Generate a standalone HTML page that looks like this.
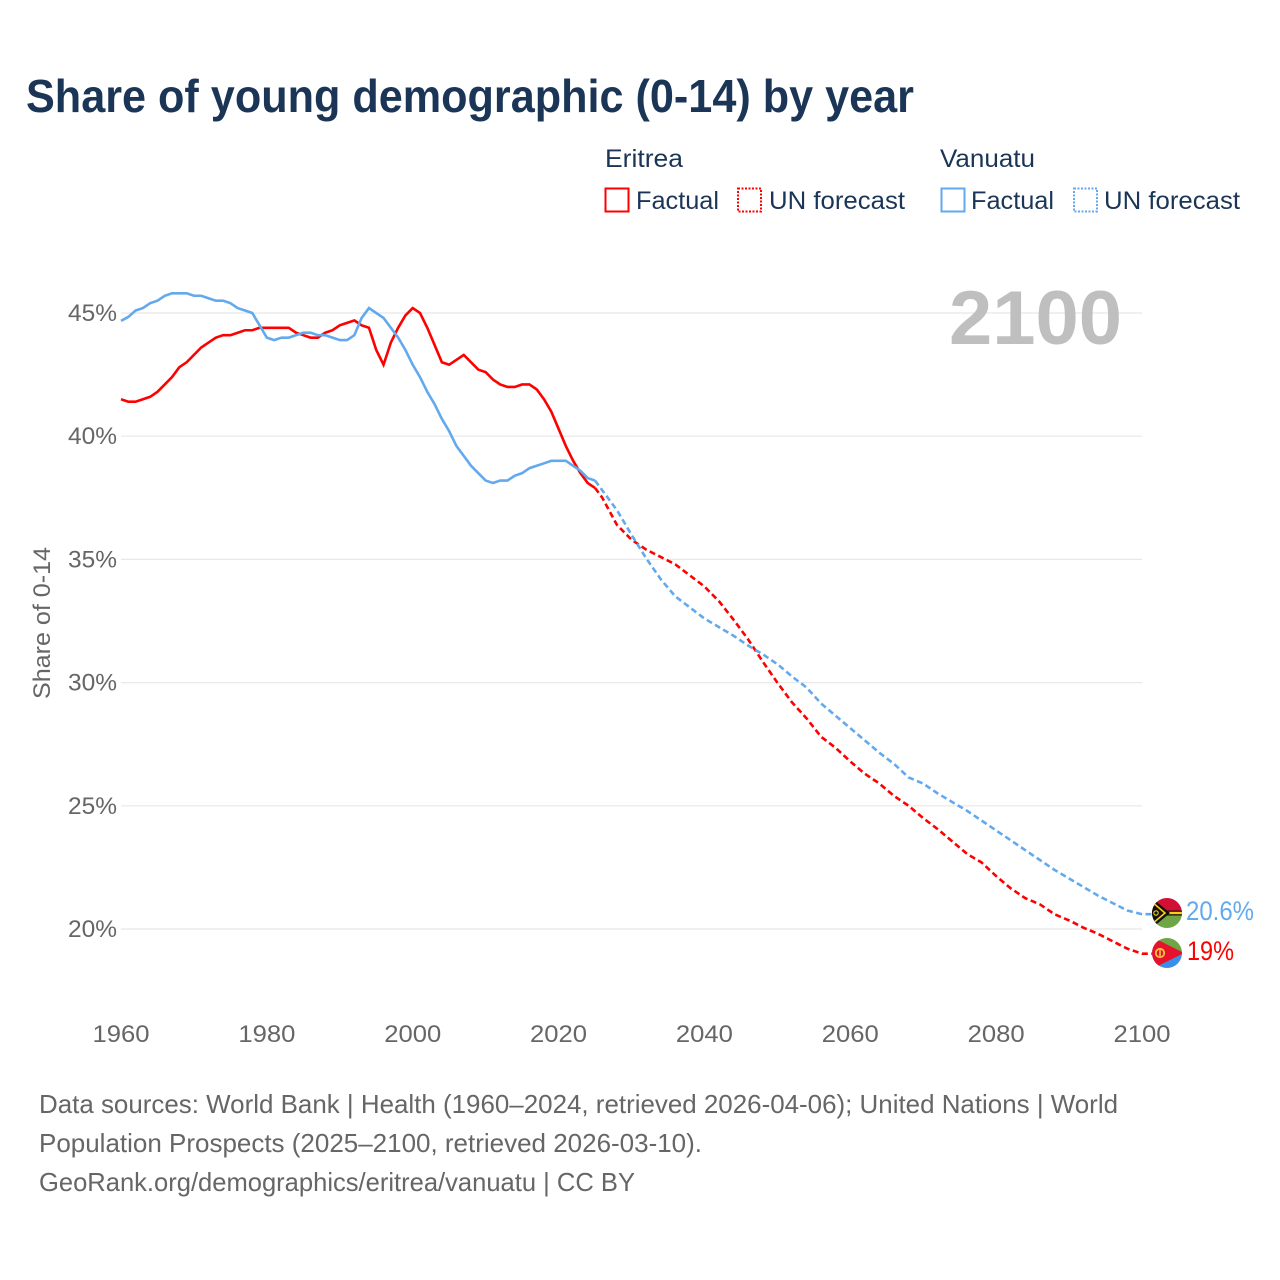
<!DOCTYPE html>
<html lang="en">
<head>
<meta charset="utf-8">
<title>Share of young demographic (0-14) by year</title>
<style>
html,body{margin:0;padding:0;background:#fff;width:1280px;height:1280px;overflow:hidden}
svg{display:block}
text{font-family:"Liberation Sans",sans-serif}
</style>
</head>
<body>
<svg id="chart" width="1280" height="1280" viewBox="0 0 1280 1280" xmlns="http://www.w3.org/2000/svg">
  <defs>
    <clipPath id="clip-vu"><circle cx="1167" cy="913" r="15"/></clipPath>
    <clipPath id="clip-er"><circle cx="1167" cy="953" r="15"/></clipPath>
  </defs>
  <text x="26" y="112" font-size="46" font-weight="700" fill="#1b3557" textLength="888" lengthAdjust="spacingAndGlyphs">Share of young demographic (0-14) by year</text>

  <g font-size="25" fill="#1b3557">
    <text x="605" y="167" textLength="78" lengthAdjust="spacingAndGlyphs">Eritrea</text>
    <rect x="605.5" y="188.5" width="23" height="23" fill="none" stroke="#ff0000" stroke-width="2"/>
    <text x="636" y="209" textLength="83" lengthAdjust="spacingAndGlyphs">Factual</text>
    <rect x="738" y="188.5" width="23" height="23" fill="none" stroke="#ff0000" stroke-width="2" stroke-dasharray="2 1.5"/>
    <text x="769" y="209" textLength="136" lengthAdjust="spacingAndGlyphs">UN forecast</text>
    <text x="940" y="167" textLength="95" lengthAdjust="spacingAndGlyphs">Vanuatu</text>
    <rect x="941.5" y="188.5" width="23" height="23" fill="none" stroke="#63a9ee" stroke-width="2"/>
    <text x="971" y="209" textLength="83" lengthAdjust="spacingAndGlyphs">Factual</text>
    <rect x="1074" y="188.5" width="23" height="23" fill="none" stroke="#63a9ee" stroke-width="2" stroke-dasharray="2 1.5"/>
    <text x="1104" y="209" textLength="136" lengthAdjust="spacingAndGlyphs">UN forecast</text>
  </g>

  <g id="grid"></g>
  <text x="949" y="344" font-size="76" font-weight="700" fill="#bfbfbf" textLength="173" lengthAdjust="spacingAndGlyphs">2100</text>
  <g id="yticks"></g>
  <g id="xticks"></g>
  <text transform="translate(50 699) rotate(-90)" font-size="24" fill="#666666" textLength="152" lengthAdjust="spacingAndGlyphs">Share of 0-14</text>
  <g id="series"></g>

  <g clip-path="url(#clip-vu)">
    <rect x="1152" y="898" width="30" height="15" fill="#d21034"/>
    <rect x="1152" y="913" width="30" height="15" fill="#6fa544"/>
    <rect x="1152" y="910.5" width="30" height="5" fill="#111111"/>
    <rect x="1160" y="911.8" width="22" height="2.4" fill="#fdce12"/>
    <polygon points="1152,898 1170,913 1152,928" fill="#111111"/>
    <polyline points="1152,902 1165,913 1152,924" fill="none" stroke="#fdce12" stroke-width="1.6"/>
    <circle cx="1156" cy="913" r="2.2" fill="none" stroke="#fdce12" stroke-width="1.1"/>
  </g>
  <g clip-path="url(#clip-er)">
    <rect x="1152" y="938" width="30" height="15" fill="#6fa544"/>
    <rect x="1152" y="953" width="30" height="15" fill="#3b8fec"/>
    <polygon points="1150,936 1184,953 1150,970" fill="#e8112d"/>
    <circle cx="1160" cy="953" r="4.2" fill="none" stroke="#f3c63c" stroke-width="1.8"/>
    <rect x="1159.2" y="950" width="1.6" height="6" fill="#f3c63c"/>
  </g>
  <text x="1186" y="920" font-size="27" fill="#63a9ee" textLength="68" lengthAdjust="spacingAndGlyphs">20.6%</text>
  <text x="1187" y="960" font-size="27" fill="#ff0000" textLength="47" lengthAdjust="spacingAndGlyphs">19%</text>

  <g font-size="26" fill="#666666">
    <text x="39" y="1113" textLength="1079" lengthAdjust="spacingAndGlyphs">Data sources: World Bank | Health (1960–2024, retrieved 2026-04-06); United Nations | World</text>
    <text x="39" y="1152" textLength="663" lengthAdjust="spacingAndGlyphs">Population Prospects (2025–2100, retrieved 2026-03-10).</text>
    <text x="39" y="1191" textLength="596" lengthAdjust="spacingAndGlyphs">GeoRank.org/demographics/eritrea/vanuatu | CC BY</text>
  </g>
</svg>
<script>
const yTickValues = [45, 40, 35, 30, 25, 20];
const xTickValues = [1960, 1980, 2000, 2020, 2040, 2060, 2080, 2100];
const factualStartYear = 1960;
const eritreaFactual = [41.5,41.4,41.4,41.5,41.6,41.8,42.1,42.4,42.8,43.0,43.3,43.6,43.8,44.0,44.1,44.1,44.2,44.3,44.3,44.4,44.4,44.4,44.4,44.4,44.2,44.1,44.0,44.0,44.2,44.3,44.5,44.6,44.7,44.5,44.4,43.5,42.9,43.8,44.4,44.9,45.2,45.0,44.4,43.7,43.0,42.9,43.1,43.3,43.0,42.7,42.6,42.3,42.1,42.0,42.0,42.1,42.1,41.9,41.5,41.0,40.3,39.6,39.0,38.5,38.1,37.9];
const vanuatuFactual = [44.68,44.84,45.1,45.2,45.4,45.5,45.7,45.8,45.8,45.8,45.7,45.7,45.6,45.5,45.5,45.4,45.2,45.1,45.0,44.5,44.0,43.9,44.0,44.0,44.1,44.2,44.2,44.1,44.1,44.0,43.9,43.9,44.1,44.8,45.2,45.0,44.8,44.4,44.0,43.5,42.9,42.4,41.8,41.3,40.7,40.2,39.6,39.2,38.8,38.5,38.2,38.1,38.2,38.2,38.4,38.5,38.7,38.8,38.9,39.0,39.0,39.0,38.8,38.6,38.3,38.2];
const forecastYears = [2025,2026,2028,2030,2032,2034,2036,2038,2040,2042,2044,2046,2048,2050,2052,2054,2056,2058,2060,2062,2064,2066,2068,2070,2072,2074,2076,2078,2080,2082,2084,2086,2088,2090,2092,2094,2096,2098,2100];
const eritreaForecast = [37.9,37.5,36.4,35.8,35.4,35.1,34.8,34.35,33.9,33.3,32.55,31.75,30.85,30.0,29.2,28.55,27.8,27.35,26.8,26.3,25.9,25.4,25.0,24.5,24.05,23.55,23.05,22.7,22.15,21.65,21.25,21.0,20.6,20.35,20.05,19.8,19.5,19.2,19.0];
const vanuatuForecast = [38.2,37.8,37.0,36.0,35.05,34.2,33.5,33.05,32.6,32.25,31.9,31.5,31.15,30.75,30.25,29.8,29.15,28.65,28.15,27.65,27.15,26.7,26.15,25.9,25.5,25.15,24.8,24.4,24.0,23.6,23.2,22.8,22.4,22.05,21.7,21.35,21.05,20.75,20.6];

const NS = 'http://www.w3.org/2000/svg';
const xScale = function (year) { return 121 + (year - 1960) * (1142 - 121) / 140; };
const yScale = function (pct) { return 929 - (pct - 20) * (929 - 313) / 25; };
const gridGroup = document.getElementById('grid');
const yGroup = document.getElementById('yticks');
const xGroup = document.getElementById('xticks');
const seriesGroup = document.getElementById('series');

yTickValues.forEach(function (v) {
  const line = document.createElementNS(NS, 'line');
  
  
  line.setAttribute('x1', 121);
  line.setAttribute('x2', 1142);
  line.setAttribute('y1', yScale(v));
  line.setAttribute('y2', yScale(v));
  line.setAttribute('stroke', '#e8e8e8');
  line.setAttribute('stroke-width', '1.2');
  gridGroup.appendChild(line);

  const label = document.createElementNS(NS, 'text');
  
  
  label.setAttribute('x', 68);
  label.setAttribute('y', yScale(v) + 8);
  label.setAttribute('font-size', '24');
  label.setAttribute('fill', '#666666');
  label.setAttribute('textLength', '49');
  label.setAttribute('lengthAdjust', 'spacingAndGlyphs');
  label.textContent = v + '%';
  yGroup.appendChild(label);
});

xTickValues.forEach(function (v) {
  const label = document.createElementNS(NS, 'text');
  
  
  label.setAttribute('x', xScale(v) - 28.5);
  label.setAttribute('y', 1042);
  label.setAttribute('font-size', '24');
  label.setAttribute('fill', '#666666');
  label.setAttribute('textLength', '57');
  label.setAttribute('lengthAdjust', 'spacingAndGlyphs');
  label.textContent = v;
  xGroup.appendChild(label);
});

function pathFrom(years, values) {
  return values.map(function (v, i) {
    return (i ? 'L' : 'M') + xScale(years[i]).toFixed(2) + ' ' + yScale(v).toFixed(2);
  }).join(' ');
}
function factualYears(values) {
  return values.map(function (_, i) { return factualStartYear + i; });
}

const eritreaFactualLine = document.createElementNS(NS, 'path');


eritreaFactualLine.setAttribute('d', pathFrom(factualYears(eritreaFactual), eritreaFactual));
eritreaFactualLine.setAttribute('fill', 'none');
eritreaFactualLine.setAttribute('stroke', '#ff0000');
eritreaFactualLine.setAttribute('stroke-width', '2.6');
seriesGroup.appendChild(eritreaFactualLine);

const vanuatuFactualLine = document.createElementNS(NS, 'path');


vanuatuFactualLine.setAttribute('d', pathFrom(factualYears(vanuatuFactual), vanuatuFactual));
vanuatuFactualLine.setAttribute('fill', 'none');
vanuatuFactualLine.setAttribute('stroke', '#63a9ee');
vanuatuFactualLine.setAttribute('stroke-width', '2.6');
seriesGroup.appendChild(vanuatuFactualLine);

const eritreaForecastLine = document.createElementNS(NS, 'path');


eritreaForecastLine.setAttribute('d', pathFrom(forecastYears, eritreaForecast) + ' h10');
eritreaForecastLine.setAttribute('fill', 'none');
eritreaForecastLine.setAttribute('stroke', '#ff0000');
eritreaForecastLine.setAttribute('stroke-width', '2.6');
eritreaForecastLine.setAttribute('stroke-dasharray', '6 3.5');
seriesGroup.appendChild(eritreaForecastLine);

const vanuatuForecastLine = document.createElementNS(NS, 'path');


vanuatuForecastLine.setAttribute('d', pathFrom(forecastYears, vanuatuForecast) + ' h10');
vanuatuForecastLine.setAttribute('fill', 'none');
vanuatuForecastLine.setAttribute('stroke', '#63a9ee');
vanuatuForecastLine.setAttribute('stroke-width', '2.6');
vanuatuForecastLine.setAttribute('stroke-dasharray', '6 3.5');
seriesGroup.appendChild(vanuatuForecastLine);
</script>
</body>
</html>
